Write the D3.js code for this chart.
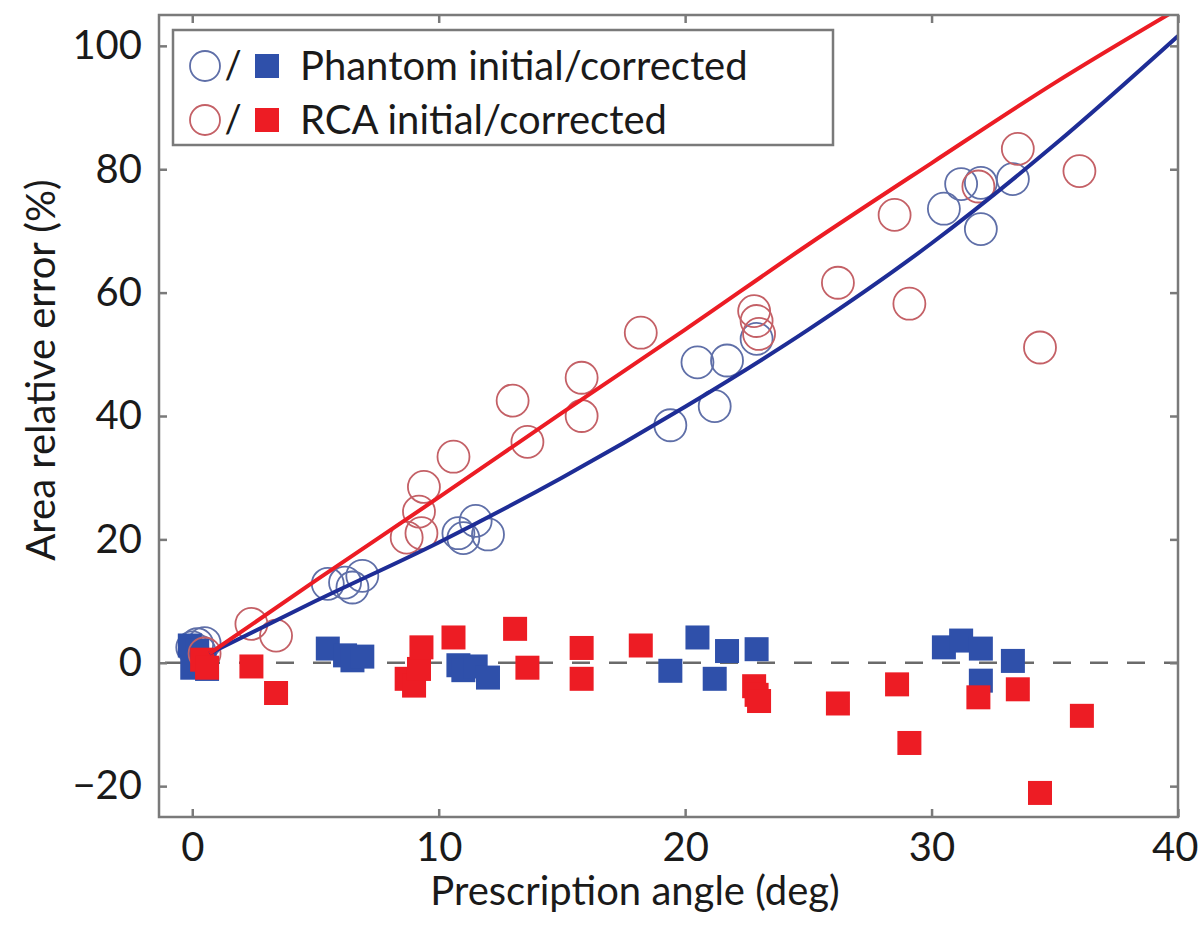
<!DOCTYPE html>
<html>
<head>
<meta charset="utf-8">
<script src="https://cdn.jsdelivr.net/npm/d3@7"></script>
<style>
  html, body { margin: 0; padding: 0; background: #fff; }
  svg { display: block; }
  text { font-family: Lato, "Open Sans", sans-serif; fill: #1a1a1a; }
</style>
</head>
<body>
<svg id="chart" width="1200" height="946"></svg>
<script>
// ---------------- data ----------------
const xTicks = [0, 10, 20, 30, 40];
const yTicks = [-20, 0, 20, 40, 60, 80, 100];
const xLabel = "Prescription angle (deg)";
const yLabel = "Area relative error (%)";
const legendLabels = ["Phantom initial/corrected", "RCA initial/corrected"];

// Phantom initial (blue open circles)
const phantomInitX = [0.0, 0.2, 0.5, 0.3, 5.5, 6.2, 6.5, 6.9, 10.8, 11.0, 11.5, 12.0, 19.4, 20.5, 21.2, 21.7, 22.9, 30.5, 31.2, 32.0, 32.0, 33.3];
const phantomInitY = [2.5, 3.0, 3.2, 1.8, 12.8, 13.0, 12.2, 14.1, 21.0, 20.2, 23.0, 20.8, 38.5, 48.7, 41.6, 49.0, 52.5, 73.6, 77.6, 77.8, 70.3, 78.4];

// Phantom corrected (blue filled squares)
const phantomCorrX = [-0.1, 0.2, 0.5, 0.0, 0.6, 5.5, 6.2, 6.5, 6.9, 10.8, 11.0, 11.5, 12.0, 19.4, 20.5, 21.2, 21.7, 22.9, 30.5, 31.2, 32.0, 32.0, 33.3];
const phantomCorrY = [2.8, 2.0, 0.3, -0.8, -1.0, 2.3, 1.2, 0.4, 1.0, -0.4, -1.2, -0.6, -2.4, -1.3, 4.1, -2.6, 1.9, 2.2, 2.5, 3.6, 2.3, -2.9, 0.3];

// RCA initial (red open circles)
const rcaInitX = [0.5, 2.4, 3.4, 8.7, 9.3, 9.2, 9.4, 10.6, 13.0, 13.6, 15.8, 15.8, 18.2, 22.8, 22.9, 23.0, 26.2, 28.5, 29.1, 31.9, 33.5, 34.4, 36.0];
const rcaInitY = [1.5, 6.3, 4.4, 20.3, 21.0, 24.5, 28.5, 33.4, 42.5, 35.8, 46.2, 40.0, 53.5, 57.0, 55.4, 53.3, 61.6, 72.6, 58.2, 77.2, 83.3, 51.1, 79.7];

// RCA corrected (red filled squares)
const rcaCorrX = [0.4, 0.6, 2.4, 3.4, 8.7, 9.0, 9.2, 9.3, 10.6, 13.1, 13.6, 15.8, 15.8, 18.2, 22.8, 22.9, 23.0, 26.2, 28.6, 29.1, 31.9, 33.5, 34.4, 36.1];
const rcaCorrY = [0.5, -0.8, -0.6, -4.9, -2.6, -3.7, -1.0, 2.5, 4.1, 5.5, -0.8, 2.4, -2.6, 2.8, -3.8, -5.2, -6.2, -6.6, -3.5, -13.0, -5.6, -4.3, -21.1, -8.6];

// Model curves
const phantomCurveX = [0.7, 5, 10, 15, 20, 25, 30, 35, 40];
const phantomCurveY = [1.5, 10, 19.5, 30, 41.5, 54, 68, 84, 101.6];
const rcaCurveX = [0.7, 5, 10, 15, 20, 25, 30, 35, 40];
const rcaCurveY = [1.5, 13.3, 26.8, 40.5, 54, 67.8, 81, 94, 106];

// ---------------- chart ----------------
const svg = d3.select("#chart");
const L = 159, R = 1178, T = 15, B = 817;
const x = d3.scaleLinear().domain([-1.35, 40]).range([L, R]);
const y = d3.scaleLinear().domain([-25, 105]).range([B, T]);

const colBlueLine = "#1e2d96", colRedLine = "#ec1c24";
const colBlueSq = "#2f50aa", colRedSq = "#ed1c24";
const colBlueCirc = "#5f6fa8", colRedCirc = "#c46066";
const axisCol = "#7a7a7a";

svg.append("defs").append("clipPath").attr("id", "clip")
  .append("rect").attr("x", L).attr("y", T).attr("width", R - L).attr("height", B - T);

const plot = svg.append("g").attr("clip-path", "url(#clip)");

// zero dashed line
plot.append("line")
  .attr("x1", L + 6).attr("x2", R).attr("y1", y(0)).attr("y2", y(0))
  .attr("stroke", "#6a6a6a").attr("stroke-width", 2.5)
  .attr("stroke-dasharray", "18,19");

const zip = (xs, ys) => xs.map((v, i) => [v, ys[i]]);
const sq = 24, r = 16;

function circles(data, color) {
  plot.append("g").selectAll("circle").data(data).join("circle")
    .attr("cx", d => x(d[0])).attr("cy", d => y(d[1])).attr("r", r)
    .attr("fill", "none").attr("stroke", color).attr("stroke-width", 1.8);
}
function squares(data, color) {
  plot.append("g").selectAll("rect").data(data).join("rect")
    .attr("x", d => x(d[0]) - sq / 2).attr("y", d => y(d[1]) - sq / 2)
    .attr("width", sq).attr("height", sq).attr("fill", color);
}

circles(zip(phantomInitX, phantomInitY), colBlueCirc);
squares(zip(phantomCorrX, phantomCorrY), colBlueSq);
circles(zip(rcaInitX, rcaInitY), colRedCirc);
squares(zip(rcaCorrX, rcaCorrY), colRedSq);

const line = d3.line().x(d => x(d[0])).y(d => y(d[1])).curve(d3.curveMonotoneX);
plot.append("path").datum(zip(phantomCurveX, phantomCurveY))
  .attr("d", line).attr("fill", "none").attr("stroke", colBlueLine).attr("stroke-width", 4);
plot.append("path").datum(zip(rcaCurveX, rcaCurveY))
  .attr("d", line).attr("fill", "none").attr("stroke", colRedLine).attr("stroke-width", 4);

// axes (inward ticks on all four sides)
const tl = 8;
const gB = svg.append("g").attr("transform", `translate(0,${B})`)
  .call(d3.axisBottom(x).tickValues(xTicks).tickSize(-tl).tickSizeOuter(0).tickPadding(16));
const gT = svg.append("g").attr("transform", `translate(0,${T})`)
  .call(d3.axisTop(x).tickValues(xTicks).tickSize(-tl).tickSizeOuter(0).tickFormat(""));
const gL = svg.append("g").attr("transform", `translate(${L},0)`)
  .call(d3.axisLeft(y).tickValues(yTicks).tickSize(-tl).tickSizeOuter(0).tickPadding(17)
    .tickFormat(d => d < 0 ? "\u2212" + Math.abs(d) : d));
const gR = svg.append("g").attr("transform", `translate(${R},0)`)
  .call(d3.axisRight(y).tickValues(yTicks).tickSize(-tl).tickSizeOuter(0).tickFormat(""));

[gB, gT, gL, gR].forEach(g => {
  g.select(".domain").remove();
  g.selectAll(".tick line").attr("stroke", axisCol).attr("stroke-width", 2.5);
  g.selectAll(".tick text").style("font-size", "40px").style("font-family", "Lato, sans-serif").attr("fill", "#1a1a1a");
});
gB.selectAll(".tick text").attr("dy", "0.71em");
// keep the last x label inside the picture
gB.selectAll(".tick text").filter(d => d === 40).attr("text-anchor", "end").attr("x", 20);

svg.append("rect").attr("x", L).attr("y", T).attr("width", R - L).attr("height", B - T)
  .attr("fill", "none").attr("stroke", axisCol).attr("stroke-width", 2.5);

// axis labels
svg.append("text").attr("x", 635).attr("y", 905).attr("text-anchor", "middle")
  .style("font-size", "40px").text(xLabel);
svg.append("text").attr("transform", "translate(55,370) rotate(-90)").attr("text-anchor", "middle")
  .style("font-size", "40px").text(yLabel);

// legend
const leg = svg.append("g");
leg.append("rect").attr("x", 173).attr("y", 30).attr("width", 660).attr("height", 115)
  .attr("fill", "#fff").attr("stroke", axisCol).attr("stroke-width", 2.5);
const legRows = [
  { label: legendLabels[0], circ: colBlueCirc, sq: colBlueSq, cy: 66 },
  { label: legendLabels[1], circ: colRedCirc, sq: colRedSq, cy: 120 }
];
legRows.forEach(row => {
  leg.append("circle").attr("cx", 205).attr("cy", row.cy).attr("r", 15)
    .attr("fill", "none").attr("stroke", row.circ).attr("stroke-width", 1.8);
  leg.append("text").attr("x", 233).attr("y", row.cy + 13).attr("text-anchor", "middle")
    .style("font-size", "38px").text("/");
  leg.append("rect").attr("x", 267 - 12).attr("y", row.cy - 12).attr("width", 24).attr("height", 24)
    .attr("fill", row.sq);
  leg.append("text").attr("x", 300).attr("y", row.cy + 14)
    .style("font-size", "40px").text(row.label);
});
</script>
</body>
</html>
